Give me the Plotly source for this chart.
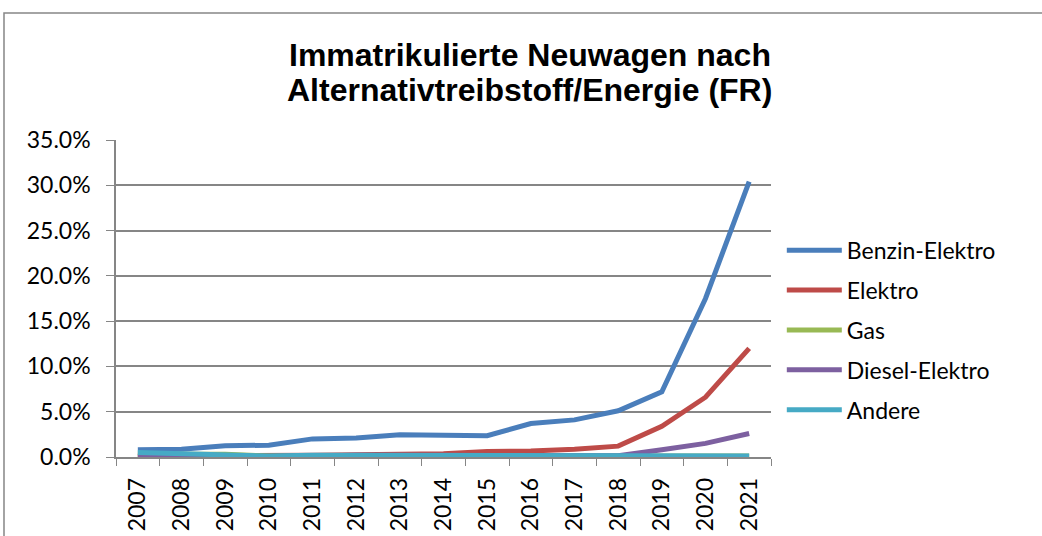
import plotly.graph_objects as go

years = [str(y) for y in range(2007, 2022)]
benzin_elektro = [0.8, 0.85, 1.25, 1.3, 2.0, 2.1, 2.45, 2.35, 2.35, 3.7, 4.1, 5.1, 7.2, 17.5, 30.4]
elektro = [0.1, 0.1, 0.1, 0.1, 0.2, 0.25, 0.3, 0.35, 0.6, 0.65, 0.85, 1.2, 3.4, 6.6, 12.0]
gas = [0.3, 0.3, 0.3, 0.1, 0.15, 0.1, 0.1, 0.1, 0.1, 0.1, 0.1, 0.1, 0.15, 0.1, 0.1]
diesel_elektro = [0.0, 0.0, 0.0, 0.0, 0.1, 0.2, 0.2, 0.2, 0.2, 0.2, 0.2, 0.15, 0.8, 1.5, 2.6]
andere = [0.5, 0.4, 0.2, 0.1, 0.2, 0.2, 0.1, 0.1, 0.1, 0.1, 0.1, 0.1, 0.1, 0.1, 0.1]

series = [
    ("Benzin-Elektro", benzin_elektro, "#4A7EBB"),
    ("Elektro", elektro, "#BE4B48"),
    ("Gas", gas, "#98B954"),
    ("Diesel-Elektro", diesel_elektro, "#7D60A0"),
    ("Andere", andere, "#46AAC5"),
]

fig = go.Figure()
for name, vals, col in series:
    fig.add_trace(go.Scatter(x=years, y=vals, name=name, mode="lines", legendgroup=name,
                             line=dict(color=col, width=5)))

tick_font = dict(family="Lato, Carlito, Calibri, sans-serif", size=23, color="black")
title_font = dict(family="Liberation Sans, Arial, sans-serif", size=32, color="black")
fig.update_layout(
    width=1042, height=536,
    margin=dict(l=116, r=271, t=140, b=79),
    paper_bgcolor="white", plot_bgcolor="white",
    showlegend=True,
    legend=dict(x=1.0165, xanchor="left", y=0.40, yanchor="middle", font=tick_font,
                bgcolor="rgba(0,0,0,0)", tracegroupgap=7, itemwidth=55),
    xaxis=dict(type="category", range=[-0.5, 14.5], tickangle=-90, tickfont=tick_font,
               showgrid=False, automargin=False,
               showline=True, linecolor="#868686", linewidth=1.5,
               ticks="outside", tickson="boundaries", ticklen=7, tickcolor="#868686",
               ticklabelstandoff=10),
    yaxis=dict(range=[0, 35], dtick=5, tickformat=".1f", ticksuffix="%", tickfont=tick_font,
               showgrid=True, gridcolor="#868686", gridwidth=1.5, automargin=False,
               showline=True, linecolor="#868686", linewidth=1.5,
               ticks="outside", ticklen=8, tickcolor="#868686", zeroline=False,
               ticklabelstandoff=11),
)
fig.add_annotation(text="<b>Immatrikulierte Neuwagen nach</b>", xref="paper", yref="paper",
                   x=0.632, y=1.268, xanchor="center", yanchor="middle", showarrow=False,
                   font=title_font)
fig.add_annotation(text="<b>Alternativtreibstoff/Energie (FR)</b>", xref="paper", yref="paper",
                   x=0.632, y=1.158, xanchor="center", yanchor="middle", showarrow=False,
                   font=title_font)
fig.add_shape(type="rect", xref="paper", yref="paper", x0=-0.171, x1=2, y0=-1, y1=1.4006,
              line=dict(color="#868686", width=1.5), fillcolor="rgba(0,0,0,0)", layer="below")
fig.write_html("out.html", config={"displayModeBar": False},
               post_script="document.body.style.margin='0';")
